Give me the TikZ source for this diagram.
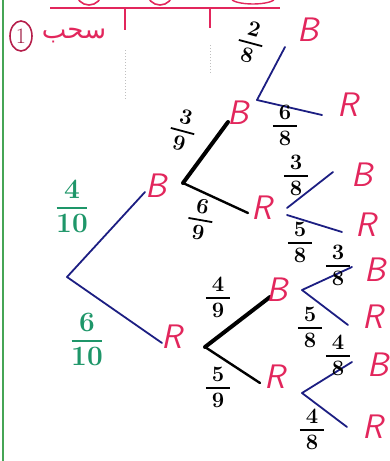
\documentclass[tikz,border=0pt]{standalone}
\usepackage{fontspec}
\usetikzlibrary{positioning,shapes.geometric}
\newfontfamily\arabicfont[Script=Arabic]{DejaVu Sans}
\TeXXeTstate=1
\definecolor{inkred}{RGB}{226,38,92}
\definecolor{inkblue}{RGB}{28,30,130}
\definecolor{inkgreen}{RGB}{30,150,105}
\definecolor{marginline}{RGB}{70,165,85}
% stacked fraction in text font
\newcommand{\frc}[2]{\begin{tabular}{@{}c@{}}#1\\[-0.35em]\rule[0.3em]{1.1em}{1.8pt}\\[-0.45em]#2\end{tabular}}

\begin{document}
\begin{tikzpicture}[x=1pt, y=-1pt,
  branch/.style={draw=inkblue, line width=1.8pt, line cap=round},
  plain/.style={draw=black, line width=2.4pt, line cap=round},
  heavy/.style={draw=black, line width=4pt, line cap=round},
  leaf/.style={text=inkred, font=\fontsize{34}{34}\selectfont\sffamily\itshape, inner sep=0pt},
  prob/.style={font=\fontsize{22}{22}\selectfont\bfseries, inner sep=0pt},
  first/.style={font=\fontsize{28}{28}\selectfont\bfseries, text=inkgreen, inner sep=0pt},
  header/.style={draw=inkred, line width=2.4pt}]
  \useasboundingbox (0,0) rectangle (390,461);

  % page margin and heading
  \draw[marginline, line width=2pt] (3,0) -- (3,461);
  \coordinate (hl) at (50,8);
  \coordinate (hr) at (280,8);
  \draw[header] (hl) -- (hr);
  \coordinate (t1) at (125,8);
  \coordinate (t2) at (210,8);
  \draw[header] (t1) -- ++(0,22);
  \draw[header] (t2) -- ++(0,20);
  \draw[header, line width=1.6pt] (89,-8) circle (13);
  \draw[header, line width=1.6pt] (160,-8) circle (13);
  \draw[header, line width=1.4pt] (253,-2) ellipse (22 and 6);
  \draw[gray!50, line width=1pt, dotted] (125,50) -- (125,100);
  \draw[gray!50, line width=1pt, dotted] (210,45) -- (210,75);
  \node[draw=inkred!80!black, ellipse, line width=1.6pt, minimum width=22pt, minimum height=30pt,
        inner sep=0pt, text=inkred!70!black, font=\fontsize{22}{22}\selectfont] (num) at (21,36) {1};
  \node[text=inkred, font=\fontsize{26}{26}\arabicfont] (title) at (74,36) {\beginR سحب\endR};

  % first draw
  \coordinate (root) at (67,277);
  \coordinate (eB) at (145,192);
  \coordinate (eR) at (162,343);
  \draw[branch] (root) -- (eB);
  \draw[branch] (root) -- (eR);
  \node[leaf] (B) at (156,186) {B};
  \node[leaf] (R) at (172,337) {R};
  \node[first] (pB) at (72,210) {\frc{4}{10}};
  \node[first] (pR) at (87,343) {\frc{6}{10}};

  % second draw after B
  \coordinate (vB) at (183,183);
  \coordinate (eBB) at (228,122);
  \coordinate (eBR) at (248,213);
  \draw[heavy] (vB) -- (eBB);
  \draw[plain] (vB) -- (eBR);
  \node[leaf] (BB) at (238,113) {B};
  \node[leaf] (BR) at (262,208) {R};
  \node[prob, rotate=-15] (pBB) at (182,133) {\frc{3}{9}};
  \node[prob, rotate=-10] (pBR) at (200,222) {\frc{6}{9}};

  % second draw after R
  \coordinate (vR) at (205,347);
  \coordinate (eRB) at (270,297);
  \coordinate (eRR) at (260,383);
  \draw[heavy] (vR) -- (eRB);
  \draw[plain] (vR) -- (eRR);
  \node[leaf] (RB) at (277,290) {B};
  \node[leaf] (RR) at (275,377) {R};
  \node[prob] (pRB) at (218,300) {\frc{4}{9}};
  \node[prob] (pRR) at (218,390) {\frc{5}{9}};

  % third draw after BB
  \coordinate (vBB) at (257,100);
  \coordinate (eBBB) at (285,47);
  \coordinate (eBBR) at (322,115);
  \draw[branch] (vBB) -- (eBBB);
  \draw[branch] (vBB) -- (eBBR);
  \node[leaf] (BBB) at (308,30) {B};
  \node[leaf] (BBR) at (348,105) {R};
  \node[prob, rotate=-15] (pBBB) at (250,45) {\frc{2}{8}};
  \node[prob] (pBBR) at (285,128) {\frc{6}{8}};

  % third draw after BR
  \coordinate (vBRu) at (287,208);
  \coordinate (vBRd) at (287,215);
  \coordinate (eBRB) at (333,172);
  \coordinate (eBRR) at (342,232);
  \draw[branch] (vBRu) -- (eBRB);
  \draw[branch] (vBRd) -- (eBRR);
  \node[leaf] (BRB) at (362,175) {B};
  \node[leaf] (BRR) at (366,225) {R};
  \node[prob] (pBRB) at (296,178) {\frc{3}{8}};
  \node[prob] (pBRR) at (300,245) {\frc{5}{8}};

  % third draw after RB
  \coordinate (vRB) at (302,290);
  \coordinate (eRBB) at (352,267);
  \coordinate (eRBR) at (348,325);
  \draw[branch] (vRB) -- (eRBB);
  \draw[branch] (vRB) -- (eRBR);
  \node[leaf] (RBB) at (375,270) {B};
  \node[leaf] (RBR) at (373,317) {R};
  \node[prob] (pRBB) at (338,268) {\frc{3}{8}};
  \node[prob] (pRBR) at (310,330) {\frc{5}{8}};

  % third draw after RR
  \coordinate (vRR) at (302,393);
  \coordinate (eRRB) at (352,362);
  \coordinate (eRRR) at (347,427);
  \draw[branch] (vRR) -- (eRRB);
  \draw[branch] (vRR) -- (eRRR);
  \node[leaf] (RRB) at (378,365) {B};
  \node[leaf] (RRR) at (373,427) {R};
  \node[prob] (pRRB) at (338,358) {\frc{4}{8}};
  \node[prob] (pRRR) at (312,432) {\frc{4}{8}};
\end{tikzpicture}
\end{document}
